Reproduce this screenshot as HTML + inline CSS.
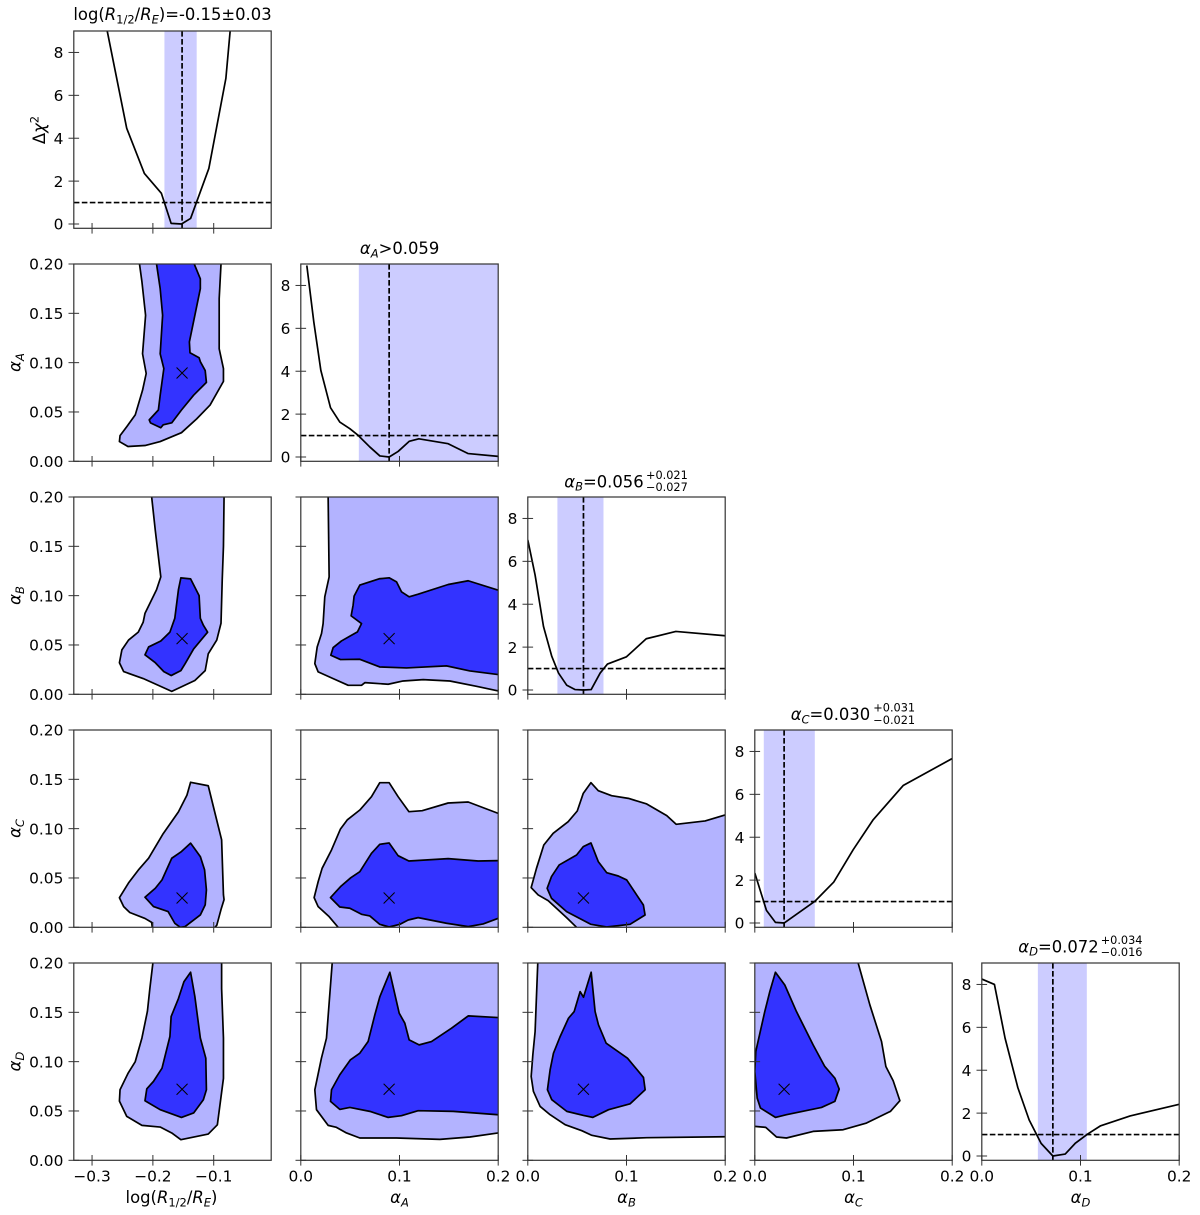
<!DOCTYPE html>
<html lang="en">
<head>
<meta charset="utf-8">
<title>Corner plot</title>
<style>
html,body{margin:0;padding:0;background:#fff;}
svg{display:block;font-family:"DejaVu Sans","Liberation Sans",sans-serif;fill:#000;}
.t{font-size:16.4px;}
.s{font-size:11.5px;}
.e{font-size:11.3px;}
</style>
</head>
<body>
<svg id="chart" xmlns="http://www.w3.org/2000/svg" width="1200" height="1215" viewBox="0 0 1200 1215">
<rect x="0" y="0" width="1200" height="1215" fill="#fff"/>
<g id="panels"></g>

<text class="t" x="172.5" y="20" text-anchor="middle">log(<tspan font-style="italic">R</tspan><tspan class="s" dy="3.3">1/2</tspan><tspan dy="-3.3">/</tspan><tspan font-style="italic">R</tspan><tspan class="s" font-style="italic" dy="3.3">E</tspan><tspan dy="-3.3">)=-0.15±0.03</tspan></text>
<text class="t" x="399.6" y="254" text-anchor="middle"><tspan font-style="italic">α</tspan><tspan class="s" font-style="italic" dy="3.3">A</tspan><tspan dy="-3.3">&gt;0.059</tspan></text>

<text class="t" x="564.3" y="487.3"><tspan font-style="italic">α</tspan><tspan class="s" font-style="italic" dy="3.3">B</tspan><tspan dy="-3.3">=0.056</tspan></text>
<text class="e" x="646" y="479">+0.021</text>
<text class="e" x="646" y="491">−0.027</text>

<text class="t" x="790.7" y="720"><tspan font-style="italic">α</tspan><tspan class="s" font-style="italic" dy="3.3">C</tspan><tspan dy="-3.3">=0.030</tspan></text>
<text class="e" x="873.3" y="711.7">+0.031</text>
<text class="e" x="873.3" y="724">−0.021</text>

<text class="t" x="1018.3" y="952.3"><tspan font-style="italic">α</tspan><tspan class="s" font-style="italic" dy="3.3">D</tspan><tspan dy="-3.3">=0.072</tspan></text>
<text class="e" x="1100.7" y="944">+0.034</text>
<text class="e" x="1100.7" y="956">−0.016</text>

<text class="t" x="171.5" y="1203" text-anchor="middle">log(<tspan font-style="italic">R</tspan><tspan class="s" dy="3.3">1/2</tspan><tspan dy="-3.3">/</tspan><tspan font-style="italic">R</tspan><tspan class="s" font-style="italic" dy="3.3">E</tspan><tspan dy="-3.3">)</tspan></text>
<text class="t" x="399.5" y="1203" text-anchor="middle"><tspan font-style="italic">α</tspan><tspan class="s" font-style="italic" dy="3.3">A</tspan></text>
<text class="t" x="626.5" y="1203" text-anchor="middle"><tspan font-style="italic">α</tspan><tspan class="s" font-style="italic" dy="3.3">B</tspan></text>
<text class="t" x="853.5" y="1203" text-anchor="middle"><tspan font-style="italic">α</tspan><tspan class="s" font-style="italic" dy="3.3">C</tspan></text>
<text class="t" x="1080.5" y="1203" text-anchor="middle"><tspan font-style="italic">α</tspan><tspan class="s" font-style="italic" dy="3.3">D</tspan></text>

<text class="t" transform="translate(45,130) rotate(-90)" text-anchor="middle">Δ<tspan font-style="italic">χ</tspan><tspan class="s" dy="-6.5">2</tspan></text>
<text class="t" transform="translate(20.5,362.5) rotate(-90)" text-anchor="middle"><tspan font-style="italic">α</tspan><tspan class="s" font-style="italic" dy="3.3">A</tspan></text>
<text class="t" transform="translate(20.5,595.5) rotate(-90)" text-anchor="middle"><tspan font-style="italic">α</tspan><tspan class="s" font-style="italic" dy="3.3">B</tspan></text>
<text class="t" transform="translate(20.5,828.5) rotate(-90)" text-anchor="middle"><tspan font-style="italic">α</tspan><tspan class="s" font-style="italic" dy="3.3">C</tspan></text>
<text class="t" transform="translate(20.5,1061.5) rotate(-90)" text-anchor="middle"><tspan font-style="italic">α</tspan><tspan class="s" font-style="italic" dy="3.3">D</tspan></text>
</svg>

<script>
// ---- parameters and best-fit values ----
const parameters = ["log-r", "alpha-a", "alpha-b", "alpha-c", "alpha-d"];
const bestFit = [-0.152, 0.0895, 0.0564, 0.0297, 0.072];
const bandLow = [-0.181, 0.0588, 0.03, 0.0091, 0.0568];
const bandHigh = [-0.128, 0.2, 0.0767, 0.0608, 0.1064];
const chiThreshold = 1;

// ---- axis ticks and labels ----
const logRTicks = [-0.3, -0.2, -0.1];
const logRTickLabels = ["−0.3", "−0.2", "−0.1"];
const alphaTicks = [0, 0.1, 0.2];
const alphaTickLabels = ["0.0", "0.1", "0.2"];
const alphaYTicks = [0, 0.05, 0.1, 0.15, 0.2];
const alphaYTickLabels = ["0.00", "0.05", "0.10", "0.15", "0.20"];
const chiTicks = [0, 2, 4, 6, 8];
const chiTickLabels = ["0", "2", "4", "6", "8"];

// ---- 1D profiles: [parameter value, delta chi2] ----
const profileLogR = [[-0.277,9.5],[-0.275,8.99],[-0.243,4.46],[-0.214,2.36],[-0.186,1.43],[-0.17,0.03],[-0.153,0],[-0.138,0.26],[-0.108,2.59],[-0.08,6.79],[-0.073,9],[-0.07,9.6]];
const profileAlphaA = [[0.0061,8.93],[0.0132,6.29],[0.0203,4.04],[0.0301,2.3],[0.0395,1.63],[0.0497,1.32],[0.0581,1.01],[0.0699,0.47],[0.0801,0.05],[0.0895,0],[0.0986,0.26],[0.1098,0.73],[0.1196,0.85],[0.1493,0.62],[0.1696,0.16],[0.2,0.03]];
const profileAlphaB = [[0,7],[0.0074,5.36],[0.0159,2.96],[0.0243,1.57],[0.0311,0.79],[0.0395,0.22],[0.048,0.02],[0.0564,0],[0.0642,0.02],[0.0733,0.79],[0.0807,1.21],[0.1,1.55],[0.12,2.39],[0.15,2.73],[0.2,2.53]];
const profileAlphaC = [[0,2.33],[0.0118,0.59],[0.0209,0.03],[0.0297,0],[0.0608,1.01],[0.08,1.91],[0.0997,3.42],[0.12,4.82],[0.1503,6.41],[0.2,7.67]];
const profileAlphaD = [[0,8.25],[0.0128,8],[0.0236,5.49],[0.0365,3.19],[0.048,1.68],[0.0601,0.59],[0.072,0],[0.0845,0.09],[0.0946,0.59],[0.1074,1.03],[0.12,1.4],[0.1503,1.87],[0.2,2.41]];

// ---- 2D contours: [x value, y value] ----
const logRAlphaAOuter = [[-0.222,0.2],[-0.218,0.182],[-0.212,0.148],[-0.217,0.109],[-0.211,0.089],[-0.217,0.072],[-0.229,0.047],[-0.243,0.035],[-0.254,0.026],[-0.255,0.02],[-0.241,0.015],[-0.213,0.016],[-0.188,0.02],[-0.153,0.029],[-0.128,0.043],[-0.106,0.057],[-0.084,0.081],[-0.084,0.094],[-0.091,0.114],[-0.091,0.165],[-0.088,0.2]];
const logRAlphaAInner = [[-0.194,0.2],[-0.188,0.175],[-0.184,0.148],[-0.188,0.109],[-0.182,0.094],[-0.188,0.067],[-0.191,0.052],[-0.206,0.042],[-0.204,0.039],[-0.187,0.034],[-0.183,0.037],[-0.169,0.039],[-0.153,0.052],[-0.133,0.067],[-0.112,0.08],[-0.114,0.092],[-0.122,0.101],[-0.124,0.105],[-0.139,0.11],[-0.14,0.121],[-0.131,0.148],[-0.122,0.175],[-0.122,0.185],[-0.132,0.2]];

const logRAlphaBOuter = [[-0.202,0.2],[-0.196,0.166],[-0.187,0.119],[-0.194,0.106],[-0.213,0.082],[-0.216,0.073],[-0.224,0.063],[-0.24,0.055],[-0.251,0.045],[-0.255,0.032],[-0.248,0.023],[-0.216,0.016],[-0.169,0.003],[-0.131,0.014],[-0.114,0.024],[-0.109,0.041],[-0.095,0.055],[-0.088,0.072],[-0.086,0.116],[-0.084,0.15],[-0.083,0.2]];
const logRAlphaBInner = [[-0.154,0.118],[-0.138,0.117],[-0.124,0.1],[-0.122,0.077],[-0.117,0.07],[-0.11,0.063],[-0.133,0.046],[-0.147,0.031],[-0.154,0.024],[-0.17,0.019],[-0.182,0.023],[-0.196,0.032],[-0.213,0.04],[-0.207,0.048],[-0.187,0.054],[-0.172,0.063],[-0.164,0.077],[-0.158,0.106]];

const logRAlphaCOuter = [[-0.098,0],[-0.095,0.002],[-0.088,0.018],[-0.083,0.028],[-0.084,0.033],[-0.087,0.0887],[-0.098,0.116],[-0.109,0.1435],[-0.138,0.147],[-0.144,0.134],[-0.158,0.117],[-0.183,0.095],[-0.207,0.07],[-0.224,0.058],[-0.24,0.045],[-0.255,0.03],[-0.248,0.021],[-0.238,0.015],[-0.213,0.009],[-0.202,0.005],[-0.201,0]];
const logRAlphaCInner = [[-0.138,0.0853],[-0.122,0.0717],[-0.115,0.0582],[-0.112,0.0379],[-0.114,0.0227],[-0.122,0.0125],[-0.147,0.0007],[-0.155,0],[-0.164,0.0041],[-0.175,0.0159],[-0.199,0.021],[-0.213,0.0305],[-0.196,0.0396],[-0.185,0.0481],[-0.169,0.07],[-0.153,0.0768]];

const logRAlphaDOuter = [[-0.2,0.2],[-0.205,0.174],[-0.209,0.151],[-0.218,0.124],[-0.229,0.1],[-0.241,0.088],[-0.254,0.0715],[-0.255,0.06],[-0.243,0.0445],[-0.218,0.0354],[-0.188,0.0337],[-0.169,0.0277],[-0.154,0.0209],[-0.109,0.0266],[-0.094,0.036],[-0.084,0.083],[-0.084,0.124],[-0.087,0.174],[-0.087,0.2]];
const logRAlphaDInner = [[-0.138,0.1906],[-0.149,0.181],[-0.158,0.164],[-0.17,0.1457],[-0.172,0.1255],[-0.185,0.0934],[-0.199,0.08],[-0.21,0.0725],[-0.213,0.0604],[-0.188,0.0513],[-0.153,0.0435],[-0.133,0.048],[-0.117,0.0614],[-0.112,0.0715],[-0.113,0.1035],[-0.122,0.124],[-0.131,0.166]];

const alphaAAlphaBOuter = [[0.0277,0.2],[0.0287,0.119],[0.0243,0.0988],[0.0226,0.0717],[0.021,0.0616],[0.0166,0.048],[0.0142,0.0311],[0.0176,0.0227],[0.0328,0.0159],[0.048,0.0091],[0.0615,0.0091],[0.0649,0.0118],[0.0885,0.0102],[0.1037,0.0135],[0.124,0.0149],[0.151,0.0135],[0.178,0.0081],[0.2,0.0034]];
const alphaAAlphaBInner = [[0.2,0.1056],[0.1696,0.1151],[0.1493,0.1113],[0.1189,0.1015],[0.1098,0.0988],[0.102,0.1039],[0.097,0.114],[0.0895,0.1181],[0.0794,0.1171],[0.0598,0.1107],[0.054,0.0995],[0.053,0.0904],[0.051,0.0795],[0.0615,0.0717],[0.0574,0.0633],[0.0412,0.0541],[0.0328,0.0474],[0.0304,0.0396],[0.0402,0.0352],[0.0598,0.0355],[0.08,0.0277],[0.1071,0.0267],[0.1476,0.0288],[0.1713,0.0237],[0.2,0.02]];

const alphaAAlphaCOuter = [[0.0378,0],[0.0287,0.0108],[0.0176,0.0209],[0.0135,0.0301],[0.0176,0.0463],[0.0216,0.0598],[0.0311,0.0784],[0.0402,0.0997],[0.047,0.1088],[0.0598,0.1189],[0.0716,0.1324],[0.08,0.1466],[0.0895,0.1466],[0.0986,0.1324],[0.1095,0.1172],[0.123,0.1182],[0.1493,0.126],[0.1696,0.127],[0.2,0.1155]];
const alphaAAlphaCInner = [[0.2,0.0676],[0.1797,0.0672],[0.1493,0.0696],[0.1095,0.0672],[0.0986,0.0726],[0.0895,0.0855],[0.08,0.0841],[0.0716,0.075],[0.0598,0.0564],[0.0507,0.0503],[0.0402,0.0412],[0.0301,0.0301],[0.0395,0.0206],[0.0497,0.0193],[0.0615,0.0132],[0.0699,0.0115],[0.08,0.003],[0.0895,0.0003],[0.1003,0.003],[0.1088,0.0074],[0.1189,0.0098],[0.1476,0.0041],[0.1696,0.0007],[0.1848,0.0034],[0.2,0.0091]];

const alphaAAlphaDOuter = [[0.0318,0.2],[0.026,0.1238],[0.0209,0.1035],[0.0142,0.0715],[0.0159,0.0513],[0.0277,0.0354],[0.0361,0.0334],[0.0463,0.0277],[0.0598,0.0226],[0.097,0.0226],[0.1409,0.0212],[0.1713,0.0236],[0.2,0.0277]];
const alphaAAlphaDInner = [[0.2,0.1447],[0.1696,0.1464],[0.1527,0.1339],[0.1324,0.1204],[0.1199,0.117],[0.1098,0.1221],[0.1054,0.139],[0.0997,0.1491],[0.0902,0.1906],[0.0801,0.1659],[0.075,0.1474],[0.0682,0.1204],[0.0598,0.1086],[0.0503,0.1019],[0.0395,0.0867],[0.0311,0.0715],[0.0301,0.0597],[0.0395,0.0516],[0.0497,0.0536],[0.0699,0.0496],[0.0885,0.0435],[0.102,0.0452],[0.1189,0.0503],[0.1544,0.0496],[0.2,0.0462]];

const alphaBAlphaCOuter = [[0.0494,0],[0.0393,0.0098],[0.0206,0.027],[0.0105,0.0328],[0.0034,0.0402],[0.0088,0.0598],[0.0162,0.0834],[0.0257,0.0953],[0.0409,0.1071],[0.0501,0.1179],[0.0562,0.1358],[0.064,0.1466],[0.0714,0.1385],[0.0849,0.1334],[0.1019,0.1307],[0.1205,0.125],[0.1408,0.1132],[0.1503,0.1044],[0.1797,0.1078],[0.2,0.1139]];
const alphaBAlphaCInner = [[0.064,0.0855],[0.0562,0.0818],[0.0494,0.0733],[0.0318,0.0632],[0.024,0.0514],[0.0196,0.0395],[0.024,0.0294],[0.0393,0.0159],[0.064,0.003],[0.0799,0.0003],[0.1036,0.003],[0.1188,0.0125],[0.1171,0.0226],[0.1103,0.0328],[0.1002,0.048],[0.0917,0.052],[0.0799,0.0554],[0.0714,0.0666]];

const alphaBAlphaDOuter = [[0.0101,0.2],[0.0074,0.1305],[0.0051,0.1069],[0.0034,0.085],[0.0057,0.0698],[0.0125,0.0546],[0.0226,0.0462],[0.0378,0.0361],[0.0547,0.03],[0.0649,0.0253],[0.0834,0.0216],[0.1206,0.0229],[0.2,0.0239]];
const alphaBAlphaDInner = [[0.0642,0.1906],[0.0564,0.1653],[0.053,0.171],[0.047,0.1508],[0.0412,0.144],[0.0328,0.1255],[0.026,0.1086],[0.0226,0.0917],[0.0199,0.0715],[0.0243,0.0614],[0.0395,0.0496],[0.0564,0.0455],[0.0659,0.0435],[0.0818,0.0513],[0.1037,0.0573],[0.1189,0.0715],[0.1172,0.084],[0.101,0.1035],[0.0794,0.1187],[0.0716,0.1373],[0.0682,0.1508]];

const alphaCAlphaDOuter = [[0.1047,0.2],[0.1166,0.1575],[0.1284,0.1204],[0.1328,0.0951],[0.1402,0.0806],[0.147,0.0604],[0.1375,0.0496],[0.1132,0.0378],[0.0895,0.031],[0.0591,0.0293],[0.0321,0.0226],[0.022,0.0236],[0.0111,0.0334],[0,0.0344]];
const alphaCAlphaDInner = [[0.0209,0.1906],[0.0304,0.1777],[0.0422,0.1508],[0.0591,0.117],[0.0709,0.0951],[0.0811,0.0833],[0.0855,0.0722],[0.0811,0.0597],[0.0676,0.0536],[0.0321,0.0462],[0.0209,0.0435],[0.0057,0.053],[0.0024,0.0631],[0,0.09],[0.001,0.1103],[0.0101,0.1508],[0.0152,0.171]];

// ---- panel wiring (indices into parameters) ----
const profiles = [profileLogR, profileAlphaA, profileAlphaB, profileAlphaC, profileAlphaD];
const contourPanels = [
  {row:1,col:0,outer:logRAlphaAOuter,inner:logRAlphaAInner,outerClosed:false,innerClosed:false,corners:[]},
  {row:2,col:0,outer:logRAlphaBOuter,inner:logRAlphaBInner,outerClosed:false,innerClosed:true,corners:[]},
  {row:3,col:0,outer:logRAlphaCOuter,inner:logRAlphaCInner,outerClosed:false,innerClosed:true,corners:[]},
  {row:4,col:0,outer:logRAlphaDOuter,inner:logRAlphaDInner,outerClosed:false,innerClosed:true,corners:[]},
  {row:2,col:1,outer:alphaAAlphaBOuter,inner:alphaAAlphaBInner,outerClosed:false,innerClosed:false,corners:[[0.2,0.2]]},
  {row:3,col:1,outer:alphaAAlphaCOuter,inner:alphaAAlphaCInner,outerClosed:false,innerClosed:false,corners:[[0.2,0]]},
  {row:4,col:1,outer:alphaAAlphaDOuter,inner:alphaAAlphaDInner,outerClosed:false,innerClosed:false,corners:[[0.2,0.2]]},
  {row:3,col:2,outer:alphaBAlphaCOuter,inner:alphaBAlphaCInner,outerClosed:false,innerClosed:true,corners:[[0.2,0]]},
  {row:4,col:2,outer:alphaBAlphaDOuter,inner:alphaBAlphaDInner,outerClosed:false,innerClosed:true,corners:[[0.2,0.2]]},
  {row:4,col:3,outer:alphaCAlphaDOuter,inner:alphaCAlphaDInner,outerClosed:false,innerClosed:true,corners:[[0,0.2]]}
];

// ---- layout and axis functions ----
const NS = "http://www.w3.org/2000/svg";
const root = document.getElementById("panels");
const panelW = 197.4, panelH = 197.3;
const X_DOMAINS = [[-0.33,-0.0055],[0,0.2],[0,0.2],[0,0.2],[0,0.2]];
const ALPHA_DOMAIN = [0,0.2];
const CHI_DOMAIN = [-0.2,9];
const LINE_W = 1.7;
function panelLeft(c){ return 73.8 + 227*c; }
function panelTop(r){ return 31 + 233*r; }
function sx(c,v){ const d=X_DOMAINS[c]; return panelLeft(c) + (v-d[0])/(d[1]-d[0])*panelW; }
function sy(r,v,d){ return panelTop(r) + panelH - (v-d[0])/(d[1]-d[0])*panelH; }
function mk(tag,attrs,parent){
  const e=document.createElementNS(NS,tag);
  for(const k in attrs) e.setAttribute(k,attrs[k]);
  parent.appendChild(e);
  return e;
}
function pathFrom(pts,c,r,d,closed){
  const s=pts.map(function(p,i){return (i?"L":"M")+sx(c,p[0]).toFixed(2)+" "+sy(r,p[1],d).toFixed(2);}).join(" ");
  return closed? s+" Z" : s;
}
function addAxes(r,c,yTicks,yLabels,d,xTicks,xLabels,g){
  const left=panelLeft(c), top=panelTop(r);
  const frame=mk("rect",{x:left,y:top,width:panelW,height:panelH,fill:"none",stroke:"#333",'stroke-width':1.2},g);
  
  
  yTicks.forEach(function(v,i){
    const y=sy(r,v,d);
    const t=mk("line",{x1:left-5.3,x2:left+5.3,y1:y,y2:y,stroke:"#333",'stroke-width':1},g);
    
    
    if(yLabels){
      const l=mk("text",{x:left-10.4,y:y+5.7,'text-anchor':'end','font-size':'15.4px'},g);
      l.textContent=yLabels[i];
      
      
    }
  });
  xTicks.forEach(function(v,i){
    const x=sx(c,v), y=top+panelH;
    const t=mk("line",{x1:x,x2:x,y1:y-5.3,y2:y+5.3,stroke:"#333",'stroke-width':1},g);
    
    
    if(r===4){
      const l=mk("text",{x:x,y:1181.7,'text-anchor':'middle','font-size':'15.4px'},g);
      l.textContent=xLabels[i];
      
      
    }
  });
}
function addClip(r,c,g){
  const id="clip-"+r+"-"+c;
  const cp=mk("clipPath",{id:id},g);
  mk("rect",{x:panelLeft(c),y:panelTop(r),width:panelW,height:panelH},cp);
  const inner=mk("g",{'clip-path':"url(#"+id+")"},g);
  return inner;
}

// ---- diagonal panels ----
profiles.forEach(function(curve,i){
  const g=mk("g",{},root);
  
  
  const cg=addClip(i,i,g);
  const band=mk("rect",{x:sx(i,bandLow[i]),y:panelTop(i),width:sx(i,bandHigh[i])-sx(i,bandLow[i]),height:panelH,fill:"#ccccff"},cg);
  
  
  const line=mk("path",{d:pathFrom(curve,i,i,CHI_DOMAIN,false),fill:"none",stroke:"#000",'stroke-width':LINE_W,'stroke-linejoin':'round'},cg);
  
  
  const hl=mk("line",{x1:panelLeft(i),x2:panelLeft(i)+panelW,y1:sy(i,chiThreshold,CHI_DOMAIN),y2:sy(i,chiThreshold,CHI_DOMAIN),stroke:"#000",'stroke-width':LINE_W,'stroke-dasharray':'5.6 2.4'},cg);
  
  
  const vl=mk("line",{x1:sx(i,bestFit[i]),x2:sx(i,bestFit[i]),y1:panelTop(i),y2:panelTop(i)+panelH,stroke:"#000",'stroke-width':LINE_W,'stroke-dasharray':'5.6 2.4'},cg);
  
  
  addAxes(i,i,chiTicks,chiTickLabels,CHI_DOMAIN,i===0?logRTicks:alphaTicks,i===0?logRTickLabels:alphaTickLabels,g);
});

// ---- contour panels ----
contourPanels.forEach(function(p){
  const g=mk("g",{},root);
  
  
  const cg=addClip(p.row,p.col,g);
  const f1=mk("path",{d:pathFrom(p.outer.concat(p.corners),p.col,p.row,ALPHA_DOMAIN,true),fill:"#b3b3ff",stroke:"none"},cg);
  
  
  const f2=mk("path",{d:pathFrom(p.inner,p.col,p.row,ALPHA_DOMAIN,true),fill:"#3333ff",stroke:"none"},cg);
  
  
  const l1=mk("path",{d:pathFrom(p.outer,p.col,p.row,ALPHA_DOMAIN,p.outerClosed),fill:"none",stroke:"#000",'stroke-width':LINE_W,'stroke-linejoin':'round'},cg);
  
  
  const l2=mk("path",{d:pathFrom(p.inner,p.col,p.row,ALPHA_DOMAIN,p.innerClosed),fill:"none",stroke:"#000",'stroke-width':LINE_W,'stroke-linejoin':'round'},cg);
  
  
  const cx=sx(p.col,bestFit[p.col]), cy=sy(p.row,bestFit[p.row],ALPHA_DOMAIN), h=5.5;
  const m=mk("path",{d:"M"+(cx-h)+" "+(cy-h)+" L"+(cx+h)+" "+(cy+h)+" M"+(cx-h)+" "+(cy+h)+" L"+(cx+h)+" "+(cy-h),stroke:"#000",'stroke-width':1,fill:"none"},cg);
  
  
  addAxes(p.row,p.col,alphaYTicks,p.col===0?alphaYTickLabels:null,ALPHA_DOMAIN,p.col===0?logRTicks:alphaTicks,p.col===0?logRTickLabels:alphaTickLabels,g);
});
</script>
</body>
</html>
